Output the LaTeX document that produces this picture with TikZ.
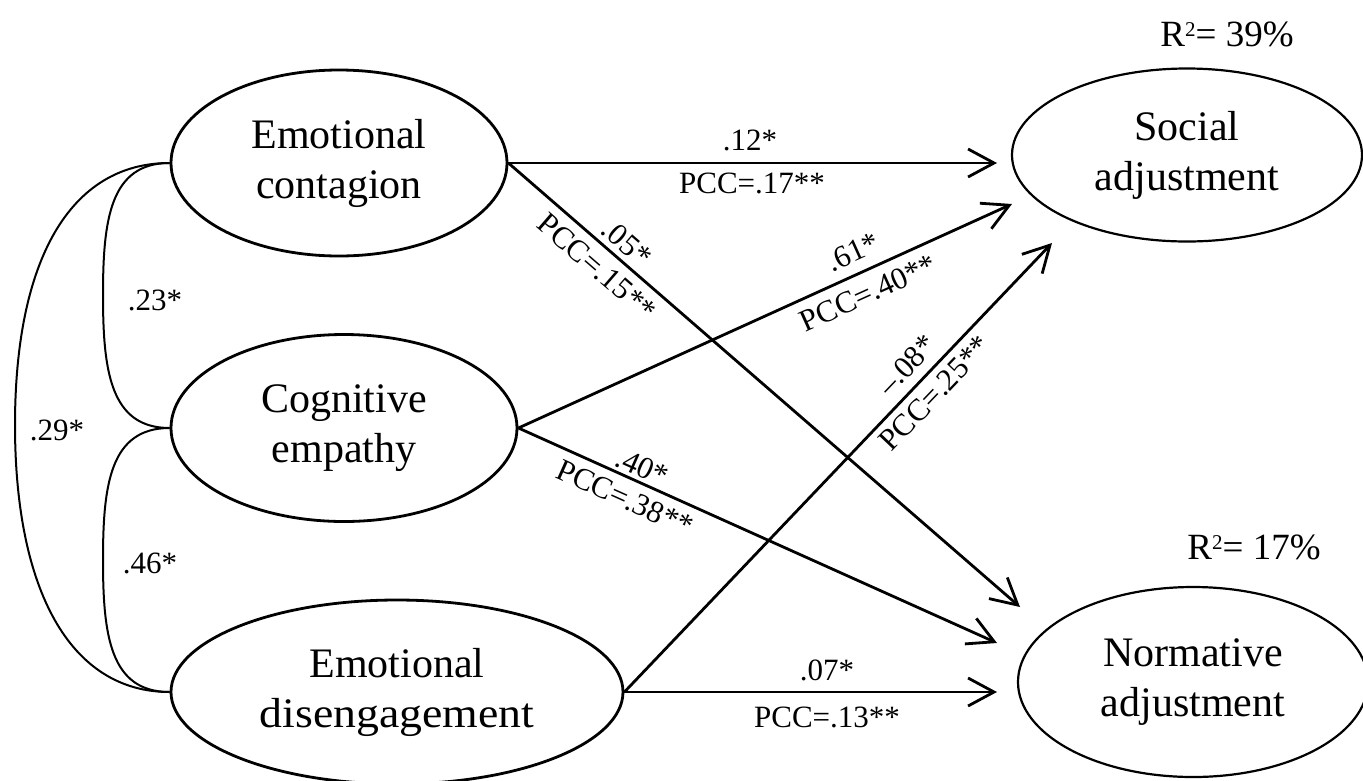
\documentclass[tikz,border=0pt]{standalone}
\usepackage{fontspec}
\setmainfont{Liberation Serif}
\usetikzlibrary{shapes.geometric,arrows.meta}
\begin{document}
\begin{tikzpicture}[x=1pt,y=-1pt,
  lat/.style={draw, ellipse, line width=2.8pt, inner sep=0pt, align=center,
    font=\fontsize{42}{50}\selectfont},
  latr/.style={lat, line width=2.2pt},
  arr/.style={line width=2.8pt, -{Straight Barb[length=26pt,width=28pt]}},
  cor/.style={line width=2pt},
  lab/.style={inner sep=0pt, font=\fontsize{31}{31}\selectfont},
  rsq/.style={inner sep=0pt, font=\fontsize{37}{37}\selectfont}]
\useasboundingbox (0,0) rectangle (1363,780);
% latent variables
\node[lat, minimum width=336pt, minimum height=186pt] (ec) at (339,163) {Emotional\\contagion};
\node[lat, minimum width=346pt, minimum height=187pt] (ce) at (344,428) {Cognitive\\empathy};
\node[lat, minimum width=452pt, minimum height=184pt] (ed) at (397,692) {Emotional\\\scalebox{1.09}[1]{disengagement}};
\node[latr, minimum width=350pt, minimum height=173pt] (sa) at (1187,155) {Social\\adjustment};
\node[latr, minimum width=350pt, minimum height=190pt] (na) at (1193,682) {Normative\\adjustment};
% R squared
\node[rsq] (r1) at (1227,34) {R\raisebox{10pt}{\fontsize{21}{21}\selectfont 2}= 39\%};
\node[rsq] (r2) at (1254,547) {R\raisebox{10pt}{\fontsize{21}{21}\selectfont 2}= 17\%};
% arrow tips
\coordinate (t1) at (997,163);
\coordinate (t2) at (1020,607);
\coordinate (t3) at (1012,204);
\coordinate (t4) at (997,643);
\coordinate (t5) at (1052,243);
\coordinate (t6) at (997,692);
\draw[arr] (ec.east) -- (t1);
\draw[arr] (ec.east) -- (t2);
\draw[arr] (ce.east) -- (t3);
\draw[arr] (ce.east) -- (t4);
\draw[arr] (ed.east) -- (t5);
\draw[arr] (ed.east) -- (t6);
% correlations
\draw[cor] (ec.west) .. controls (110,163) and (103,220) .. (103,295)
                     .. controls (103,370) and (110,428) .. (ce.west);
\draw[cor] (ec.west) .. controls (70,163) and (15,260) .. (15,425)
                     .. controls (15,590) and (70,692) .. (ed.west);
\draw[cor] (ce.west) .. controls (110,428) and (103,485) .. (103,560)
                     .. controls (103,635) and (110,692) .. (ed.west);
% labels
\node[lab] (l1) at (750,140) {.12*};
\node[lab] (l2) at (752,183) {PCC=.17**};
\node[lab, rotate=-40.9] (l3) at (627,243) {.05*};
\node[lab, rotate=-40.9] (l4) at (597,267) {PCC=.15**};
\node[lab, rotate=24.3] (l5) at (853,252) {.61*};
\node[lab, rotate=24.3] (l6) at (868,293) {PCC=.40**};
\node[lab, rotate=46.3] (l7) at (907,365) {–.08*};
\node[lab, rotate=46.3] (l8) at (935,393) {PCC=.25**};
\node[lab, rotate=-24.1] (l9) at (642,467) {.40*};
\node[lab, rotate=-24.1] (l10) at (625,498) {PCC=.38**};
\node[lab] (l11) at (827,670) {.07*};
\node[lab] (l12) at (827,717) {PCC=.13**};
\node[lab] (l13) at (155,300) {.23*};
\node[lab] (l14) at (57,430) {.29*};
\node[lab] (l15) at (150,563) {.46*};
\end{tikzpicture}
\end{document}
